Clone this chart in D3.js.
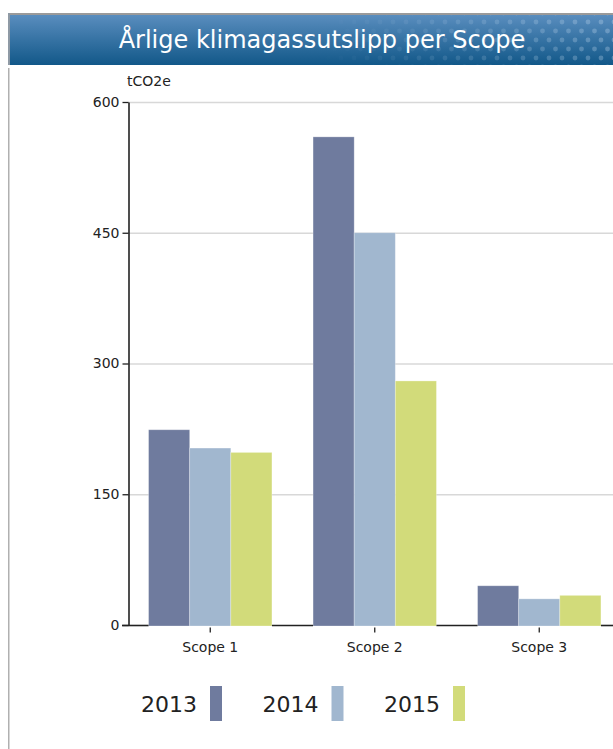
<!DOCTYPE html>
<html>
<head>
<meta charset="utf-8">
<script src="https://cdn.jsdelivr.net/npm/d3@7"></script>
<style>
  html, body { margin: 0; padding: 0; background: #fff; overflow: hidden; }
  svg { display: block; font-family: "DejaVu Sans", sans-serif; }
</style>
</head>
<body>
<svg id="chart" width="613" height="749"></svg>
<script>
const title = "Årlige klimagassutslipp per Scope";
const unitLabel = "tCO2e";
const categories = ["Scope 1", "Scope 2", "Scope 3"];
const years = ["2013", "2014", "2015"];
const values2013 = [224, 560, 45];
const values2014 = [203, 450, 30];
const values2015 = [198, 280, 34];
const yTicks = [0, 150, 300, 450, 600];
const colors = ["#6f7b9e", "#a1b7cf", "#d2db7a"];

const seriesValues = [values2013, values2014, values2015];

const svg = d3.select("#chart");
const defs = svg.append("defs");

// title bar gradient
const grad = defs.append("linearGradient").attr("id", "barGrad")
  .attr("x1", 0).attr("y1", 0).attr("x2", 0).attr("y2", 1);
grad.append("stop").attr("offset", "0%").attr("stop-color", "#5c8fc0");
grad.append("stop").attr("offset", "100%").attr("stop-color", "#125889");

const pat = defs.append("pattern").attr("id", "dots")
  .attr("patternUnits", "userSpaceOnUse").attr("width", 13).attr("height", 18);
pat.append("circle").attr("cx", 3).attr("cy", 4).attr("r", 2.4).attr("fill", "#cfe2f4");
pat.append("circle").attr("cx", 9.5).attr("cy", 13).attr("r", 2.4).attr("fill", "#cfe2f4");

const fadeGrad = defs.append("linearGradient").attr("id", "fadeGrad")
  .attr("gradientUnits", "userSpaceOnUse")
  .attr("x1", 320).attr("y1", 0).attr("x2", 613).attr("y2", 0);
fadeGrad.append("stop").attr("offset", "0%").attr("stop-color", "#fff").attr("stop-opacity", 0);
fadeGrad.append("stop").attr("offset", "100%").attr("stop-color", "#fff").attr("stop-opacity", 0.3);
const mask = defs.append("mask").attr("id", "fadeMask");
mask.append("rect").attr("x", 0).attr("y", 0).attr("width", 613).attr("height", 80)
  .attr("fill", "url(#fadeGrad)");

// title bar
svg.append("rect").attr("x", 8).attr("y", 13).attr("width", 620).attr("height", 52)
  .attr("fill", "url(#barGrad)");
svg.append("rect").attr("x", 8).attr("y", 13).attr("width", 620).attr("height", 52)
  .attr("fill", "url(#dots)").attr("mask", "url(#fadeMask)");
svg.append("rect").attr("x", 8).attr("y", 13).attr("width", 620).attr("height", 2).attr("fill", "#9a9a9a");
svg.append("rect").attr("x", 8).attr("y", 13).attr("width", 2).attr("height", 52).attr("fill", "#8f9aa5");
svg.append("text").attr("x", 322).attr("y", 48).attr("text-anchor", "middle")
  .attr("fill", "#fff").attr("font-size", 24).text(title);

// left border
svg.append("rect").attr("x", 8).attr("y", 68).attr("width", 1.5).attr("height", 690).attr("fill", "#b0b0b0");

// scales
const y = d3.scaleLinear().domain([0, 600]).range([625, 102]);
const x = d3.scaleBand().domain(categories).range([128, 621.5]).paddingInner(0.25).paddingOuter(0.125);
const xs = d3.scaleBand().domain(years).range([0, x.bandwidth()]);

// gridlines
svg.append("g").selectAll("line").data(yTicks.filter(d => d > 0)).join("line")
  .attr("x1", 128).attr("x2", 613)
  .attr("y1", d => y(d) + 0.5).attr("y2", d => y(d) + 0.5)
  .attr("stroke", "#d8d8d8").attr("stroke-width", 1.5);

// bars
const groups = svg.append("g").selectAll("g").data(categories).join("g")
  .attr("transform", d => `translate(${x(d)},0)`);
groups.selectAll("rect").data((c, i) => years.map((yr, j) => ({ yr, v: seriesValues[j][i], j })))
  .join("rect")
  .attr("x", d => xs(d.yr))
  .attr("width", xs.bandwidth())
  .attr("y", d => y(d.v))
  .attr("height", d => y(0) - y(d.v) + 1)
  .attr("fill", d => colors[d.j])
  .attr("stroke", "rgba(255,255,255,0.35)").attr("stroke-width", 0.8);

// x axis
const xAxis = d3.axisBottom(x).tickSize(7).tickSizeOuter(0);
const gx = svg.append("g").attr("transform", `translate(0,${y(0) + 0.5})`).call(xAxis);
gx.select(".domain").remove();
gx.selectAll(".tick line").attr("stroke", "#222").attr("stroke-width", 1.3).attr("y1", 2);
gx.selectAll(".tick text").attr("font-family", "DejaVu Sans").attr("font-size", 14)
  .attr("fill", "#222").attr("dy", 0).attr("y", 26);
// baseline pieces between bars
const gaps = [[122, x(categories[0])]];
categories.forEach((c, i) => {
  const end = x(c) + x.bandwidth();
  const next = i < categories.length - 1 ? x(categories[i + 1]) : 613;
  gaps.push([end, next]);
});
svg.append("g").selectAll("line").data(gaps).join("line")
  .attr("x1", d => d[0]).attr("x2", d => d[1])
  .attr("y1", y(0) + 0.5).attr("y2", y(0) + 0.5)
  .attr("stroke", "#222").attr("stroke-width", 1.6);

// y axis
const yAxis = d3.axisLeft(y).tickValues(yTicks).tickSize(6).tickSizeOuter(0);
const gy = svg.append("g").attr("transform", "translate(128.5,0)").call(yAxis);
gy.select(".domain").attr("stroke", "#222").attr("stroke-width", 1.6);
gy.selectAll(".tick line").attr("stroke", "#222").attr("stroke-width", 1.3);
gy.selectAll(".tick text").attr("font-family", "DejaVu Sans").attr("font-size", 14)
  .attr("fill", "#222").attr("x", -9);

// unit label
svg.append("text").attr("x", 127).attr("y", 86).attr("font-size", 14).attr("fill", "#222").text(unitLabel);

// legend
const legend = svg.append("g").selectAll("g").data(years).join("g")
  .attr("transform", (d, i) => `translate(${141 + i * 121.5},0)`);
legend.append("text").attr("x", 0).attr("y", 712).attr("font-size", 22).attr("fill", "#222").text(d => d);
legend.append("rect").attr("x", 69).attr("y", 686).attr("width", 12).attr("height", 35)
  .attr("fill", (d, i) => colors[i]);
</script>
</body>
</html>
